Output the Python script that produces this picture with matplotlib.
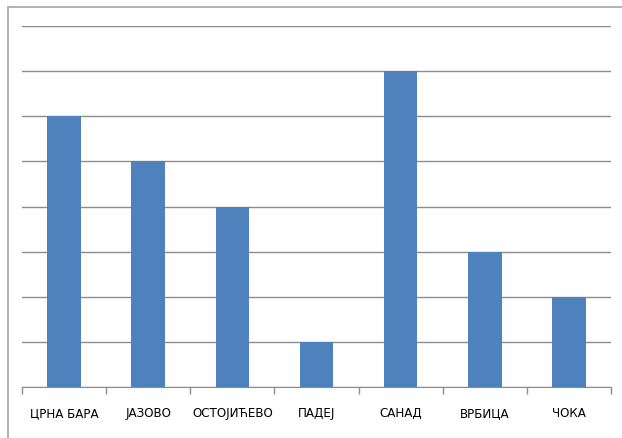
import matplotlib.pyplot as plt
from matplotlib.patches import Rectangle

# Подаци
categories = ['ЦРНА БАРА', 'ЈАЗОВО', 'ОСТОЈИЋЕВО', 'ПАДЕЈ', 'САНАД', 'ВРБИЦА', 'ЧОКА']
values = [6, 5, 4, 1, 7, 3, 2]

plt.rcParams['font.family'] = ['DejaVu Sans']
plt.rcParams['font.stretch'] = 'condensed'

W, H = 622, 439
fig = plt.figure(figsize=(W / 100, H / 100), dpi=100)

# Оквир графика (видљив само лево и горе)
fig.patches.append(Rectangle((8 / W, -0.1), 1.2, 1.1 - 8 / H, transform=fig.transFigure,
                             fill=False, edgecolor='#a6a6a6', linewidth=1.2))

ax = fig.add_axes([22 / W, 1 - 388 / H, (611 - 22) / W, (388 - 27) / H])

x = range(len(categories))
ax.bar(x, values, width=0.4, color='#4f81bd', zorder=3)

ax.set_xlim(-0.5, len(categories) - 0.5)
ax.set_ylim(0, 8)
ax.set_yticks(range(0, 9))
ax.yaxis.grid(True, color='#8c8c8c', linewidth=1.0, zorder=0)
ax.tick_params(axis='y', left=False, labelleft=False)

# Ознаке категорија и подеоци између њих
ax.set_xticks(list(x))
ax.set_xticklabels(categories, fontsize=9.5, fontstretch='condensed')
ax.set_xticks([i - 0.5 for i in range(len(categories) + 1)], minor=True)
ax.tick_params(axis='x', which='major', length=0, pad=14)
ax.tick_params(axis='x', which='minor', length=5, color='#8c8c8c', width=1.0)

for s in ['top', 'right', 'left']:
    ax.spines[s].set_visible(False)
ax.spines['bottom'].set_color('#8c8c8c')

fig.savefig('out.png', dpi=100)
